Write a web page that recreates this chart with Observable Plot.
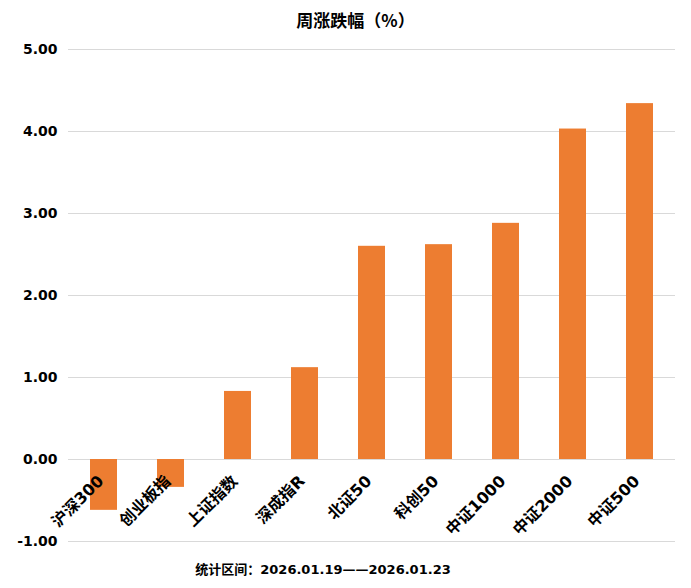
<!DOCTYPE html>
<html>
<head>
<meta charset="utf-8">
<script src="https://cdn.jsdelivr.net/npm/d3@7"></script>
<script src="https://cdn.jsdelivr.net/npm/@observablehq/plot@0.6"></script>
<style>
  html, body { margin: 0; padding: 0; background: #fff; }
  body { width: 691px; height: 588px; font-family: "DejaVu Sans", "Noto Sans CJK SC", sans-serif; }
  #title { height: 40px; line-height: 40px; text-align: center; font-size: 17px; font-weight: bold; color: #000; font-family: "Noto Sans CJK SC", sans-serif; padding-left: 20px; }
  #caption { height: 33px; line-height: 30px; text-align: center; font-size: 13px; font-weight: bold; color: #000; padding-right: 45px; }
</style>
</head>
<body>
<div id="title">周涨跌幅（%）</div>
<div id="chart"></div>
<div id="caption">统计区间：2026.01.19——2026.01.23</div>
<script>
const categories = ["沪深300", "创业板指", "上证指数", "深成指R", "北证50", "科创50", "中证1000", "中证2000", "中证500"];
const values = [-0.62, -0.34, 0.83, 1.12, 2.60, 2.62, 2.88, 4.03, 4.34];
const yTicks = [-1, 0, 1, 2, 3, 4, 5];

const data = categories.map((c, i) => ({name: c, value: values[i]}));

const chart = Plot.plot({
  width: 691,
  height: 515,
  marginTop: 9,
  marginBottom: 14,
  marginLeft: 68,
  marginRight: 16,
  style: {fontFamily: "'DejaVu Sans', 'Noto Sans CJK SC', sans-serif", fontWeight: "bold", color: "#000", background: "#fff"},
  x: {domain: categories, paddingInner: 0.6, paddingOuter: 0.3, axis: null},
  y: {domain: [-1, 5], ticks: yTicks, tickFormat: d => d.toFixed(2)},
  marks: [
    Plot.gridY(yTicks, {stroke: "#d9d9d9", strokeOpacity: 1, strokeWidth: 1}),
    Plot.axisY(yTicks, {tickSize: 0, tickPadding: 11, fontSize: 14, fontWeight: "bold", tickFormat: d => d.toFixed(2), label: null}),
    Plot.barY(data, {x: "name", y: "value", fill: "#ED7D31"}),
    Plot.text(data, {x: "name", y: () => 0, text: "name", rotate: -45, textAnchor: "end", fontSize: 16, fontWeight: "bold", fill: "#000", dx: -3, dy: 19})
  ]
});
document.getElementById("chart").appendChild(chart);
</script>
</body>
</html>
